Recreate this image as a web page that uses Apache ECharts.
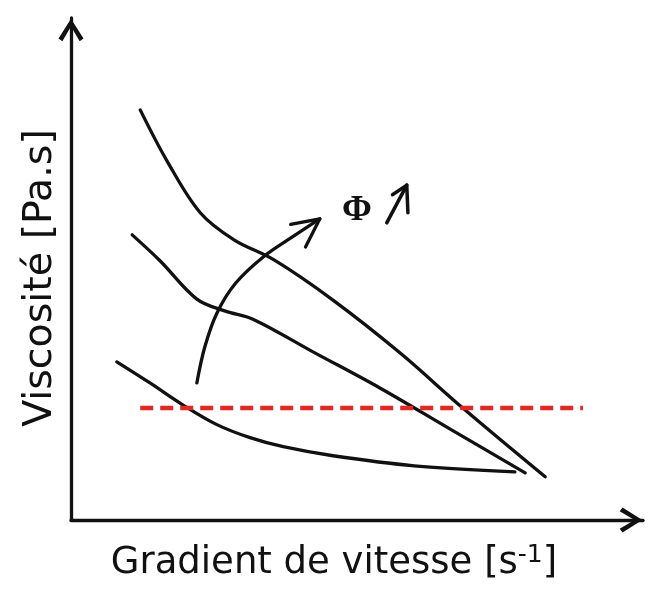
<!DOCTYPE html>
<html>
<head>
<meta charset="utf-8">
<script src="https://cdn.jsdelivr.net/npm/echarts@6/dist/echarts.min.js"></script>
<style>
html,body{margin:0;padding:0;background:#fff;}
#chart{width:655px;height:595px;}
</style>
</head>
<body>
<div id="chart"></div>
<script>
// Axis titles
const xTitle = 'Gradient de vitesse [s{sup|-1}]';
const yTitle = 'Viscosité [Pa.s]';
const phiText = 'Φ';

// Curves (x: shear rate, y: viscosity, arbitrary units 0-100)
const curveHigh = [[12.1,81.7],[16.8,71.5],[22.6,61.2],[28.5,55.8],[35.5,51.8],[45.8,43.8],[57.5,33.3],[68.5,22.3],[82.9,8.6]];
const curveMid = [[10.7,56.8],[15.6,51.6],[22.0,44.0],[27.0,41.6],[31.8,40.0],[42.3,33.5],[54.0,26.3],[66.0,18.3],[79.4,9.4]];
const curveLow = [[8.0,31.5],[13.8,27.3],[19.6,22.9],[25.5,19.0],[31.3,16.4],[37.1,14.6],[45.8,12.8],[60.0,10.8],[77.6,9.6]];

// Red dashed threshold
const thresholdLine = [[12.1,22.3],[89.5,22.3]];

// "Φ increases" arrow
const phiArrow = [[22.0,27.3],[23.4,34.5],[25.5,41.2],[28.8,47.2],[33.6,52.4],[38.3,56.1],[43.5,60.0]];
const phiArrowHead = [[38.4,58.9],[43.5,60.0],[41.0,54.4]];
const phiLabelPos = [[50.0,61.6]];
const smallArrow = [[55.2,59.2],[58.7,66.7]];
const smallArrowHead = [[56.2,64.8],[58.7,66.7],[58.9,61.2]];

const black = '#111';
const chevron = 'path://M12,0 L24,19 L20.3,21.8 L12,7.5 L3.7,21.8 L0,19 Z';

function lineSeries(data, opts) {
  return Object.assign({
    type: 'line', data: data, showSymbol: false, symbol: 'none', clip: false,
    silent: true, animation: false,
    lineStyle: { color: black, width: 3.3, cap: 'round', join: 'round' }
  }, opts || {});
}

const chart = echarts.init(document.getElementById('chart'), null, { renderer: 'canvas' });
chart.setOption({
  backgroundColor: '#fff',
  animation: false,
  grid: { left: 71, right: 12, top: 18, bottom: 75 },
  xAxis: {
    type: 'value', min: 0, max: 100,
    name: xTitle, nameLocation: 'middle', nameGap: 23,
    nameTextStyle: {
      fontFamily: 'DejaVu Sans', fontSize: 37, color: black, padding: [0, 46, 0, 0],
      rich: { sup: { fontFamily: 'DejaVu Sans', fontSize: 25, color: black, verticalAlign: 'top', padding: [0, 0, 16, 0] } }
    },
    axisLine: { show: true, lineStyle: { color: black, width: 3.3 }, symbol: ['none', chevron], symbolSize: [25, 24], symbolOffset: [0, -12] },
    axisTick: { show: false }, axisLabel: { show: false }, splitLine: { show: false }
  },
  yAxis: {
    type: 'value', min: 0, max: 100,
    name: yTitle, nameLocation: 'middle', nameGap: 10, nameRotate: 90,
    nameTextStyle: { fontFamily: 'DejaVu Sans', fontSize: 39.5, color: black, padding: [0, 18, 0, 0] },
    axisLine: { show: true, lineStyle: { color: black, width: 3.3 }, symbol: ['none', chevron], symbolSize: [25, 24], symbolOffset: [0, -12] },
    axisTick: { show: false }, axisLabel: { show: false }, splitLine: { show: false }
  },
  series: [
    lineSeries(curveHigh, { smooth: 0.35 }),
    lineSeries(curveMid, { smooth: 0.35 }),
    lineSeries(curveLow, { smooth: 0.35 }),
    lineSeries(thresholdLine, { lineStyle: { color: '#e8251f', width: 4.5, type: [13, 7] } }),
    lineSeries(phiArrow, { smooth: 0.35 }),
    lineSeries(phiArrowHead),
    lineSeries(smallArrow, { lineStyle: { color: black, width: 3.5, cap: 'round', join: 'round' } }),
    lineSeries(smallArrowHead, { lineStyle: { color: black, width: 3.5, cap: 'round', join: 'round' } }),
    {
      type: 'scatter', data: phiLabelPos, symbolSize: 1, silent: true, animation: false,
      itemStyle: { opacity: 1, color: 'rgba(0,0,0,0)' },
      label: { show: true, position: 'inside', formatter: phiText, fontFamily: 'Liberation Serif', fontWeight: 'bold', fontSize: 36, color: black, opacity: 1 }
    }
  ]
});
</script>
</body>
</html>
